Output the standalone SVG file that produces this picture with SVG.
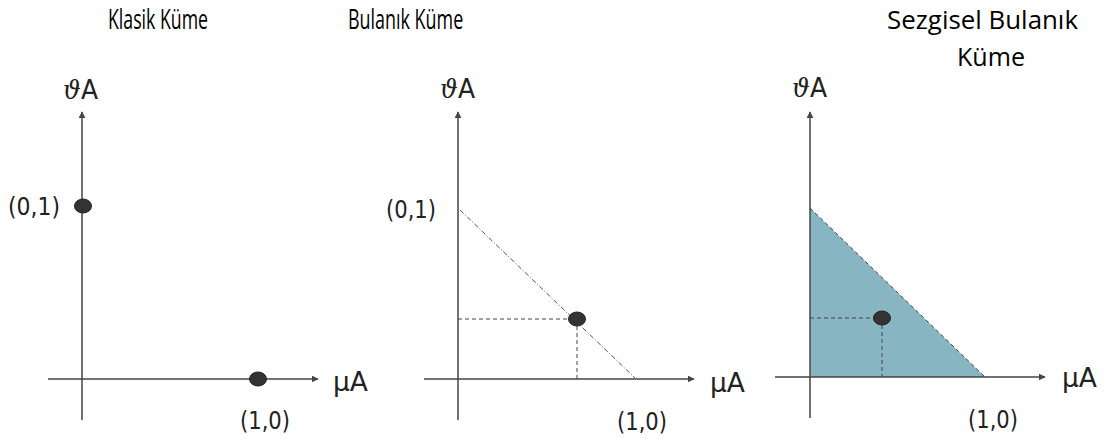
<svg xmlns="http://www.w3.org/2000/svg" width="1109" height="439" viewBox="0 0 1109 439">
<style>
.title{font-family:"Open Sans","Liberation Sans",sans-serif;font-size:25px;fill:#000}
.t2{font-size:27px}
.lbl{font-family:"DejaVu Sans","Liberation Sans",sans-serif;font-size:24px;fill:#222}
.ax{font-size:26px}
.th{font-family:"DejaVu Serif","Liberation Serif",serif;font-style:italic}
.axis{stroke:#444;stroke-width:1.5;fill:none}
.dash{stroke:#444;stroke-width:1;stroke-dasharray:4 3;fill:none}
.dashdot{stroke:#555;stroke-width:1;stroke-dasharray:5 2 1 2;fill:none}
.dot{fill:#333;stroke:#222;stroke-width:1}
</style>
<defs>
<marker id="arr" viewBox="0 0 10 10" refX="9" refY="5" markerWidth="7" markerHeight="7" markerUnits="userSpaceOnUse" orient="auto">
<path d="M0,0 L10,5 L0,10 z" fill="#444"/>
</marker>
</defs>
<rect width="1109" height="439" fill="#fff"/>
<g id="titles">
<text class="title t2" transform="translate(108,29) scale(0.72,1)" x="0" y="0" textLength="139" lengthAdjust="spacingAndGlyphs">Klasik Küme</text>
<text class="title t2" transform="translate(348,29) scale(0.72,1)" x="0" y="0" textLength="160" lengthAdjust="spacingAndGlyphs">Bulanık Küme</text>
<text class="title" x="887" y="29" textLength="191" lengthAdjust="spacingAndGlyphs">Sezgisel  Bulanık</text>
<text class="title" x="957" y="66" textLength="68" lengthAdjust="spacingAndGlyphs">Küme</text>
</g>
<g id="shading">
<polygon points="810,208 985,377 810,377" fill="#87b5c1"/>
</g>
<g id="connectors">
<line class="axis" x1="82" y1="420" x2="82" y2="112" marker-end="url(#arr)"/>
<line class="axis" x1="48" y1="379" x2="318" y2="379" marker-end="url(#arr)"/>
<line class="axis" x1="458" y1="420" x2="458" y2="112" marker-end="url(#arr)"/>
<line class="axis" x1="424" y1="379" x2="694" y2="379" marker-end="url(#arr)"/>
<line class="dashdot" x1="460" y1="210" x2="635" y2="378"/>
<line class="dash" x1="458" y1="319" x2="577" y2="319"/>
<line class="dash" x1="577" y1="319" x2="577" y2="379"/>
<line class="axis" x1="810" y1="418" x2="810" y2="112" marker-end="url(#arr)"/>
<line class="axis" x1="775" y1="377" x2="1045" y2="377" marker-end="url(#arr)"/>
<line class="dash" x1="810" y1="208" x2="985" y2="377" stroke-dasharray="3 2"/>
<line class="dash" x1="810" y1="318" x2="882" y2="318"/>
<line class="dash" x1="882" y1="318" x2="882" y2="377"/>
</g>
<g id="panel1">
<ellipse class="dot" cx="83" cy="206" rx="8.5" ry="7"/>
<ellipse class="dot" cx="258" cy="379" rx="8.5" ry="7"/>
<text class="lbl ax" x="63" y="99" textLength="35" lengthAdjust="spacingAndGlyphs"><tspan class="th">ϑ</tspan>A</text>
<text class="lbl ax" x="333" y="391" textLength="35" lengthAdjust="spacingAndGlyphs">μA</text>
<text class="lbl" x="8" y="215" textLength="52" lengthAdjust="spacingAndGlyphs">(0,1)</text>
<text class="lbl" x="240" y="429" textLength="50" lengthAdjust="spacingAndGlyphs">(1,0)</text>
</g>
<g id="panel2">
<ellipse class="dot" cx="577" cy="319" rx="8.5" ry="7"/>
<text class="lbl ax" x="440" y="98" textLength="35" lengthAdjust="spacingAndGlyphs"><tspan class="th">ϑ</tspan>A</text>
<text class="lbl ax" x="710" y="392" textLength="35" lengthAdjust="spacingAndGlyphs">μA</text>
<text class="lbl" x="386" y="218" textLength="50" lengthAdjust="spacingAndGlyphs">(0,1)</text>
<text class="lbl" x="617" y="430" textLength="50" lengthAdjust="spacingAndGlyphs">(1,0)</text>
</g>
<g id="panel3">
<ellipse class="dot" cx="882" cy="318" rx="8.5" ry="7"/>
<text class="lbl ax" x="792" y="97" textLength="35" lengthAdjust="spacingAndGlyphs"><tspan class="th">ϑ</tspan>A</text>
<text class="lbl ax" x="1062" y="387" textLength="35" lengthAdjust="spacingAndGlyphs">μA</text>
<text class="lbl" x="968" y="428" textLength="50" lengthAdjust="spacingAndGlyphs">(1,0)</text>
</g>
</svg>
